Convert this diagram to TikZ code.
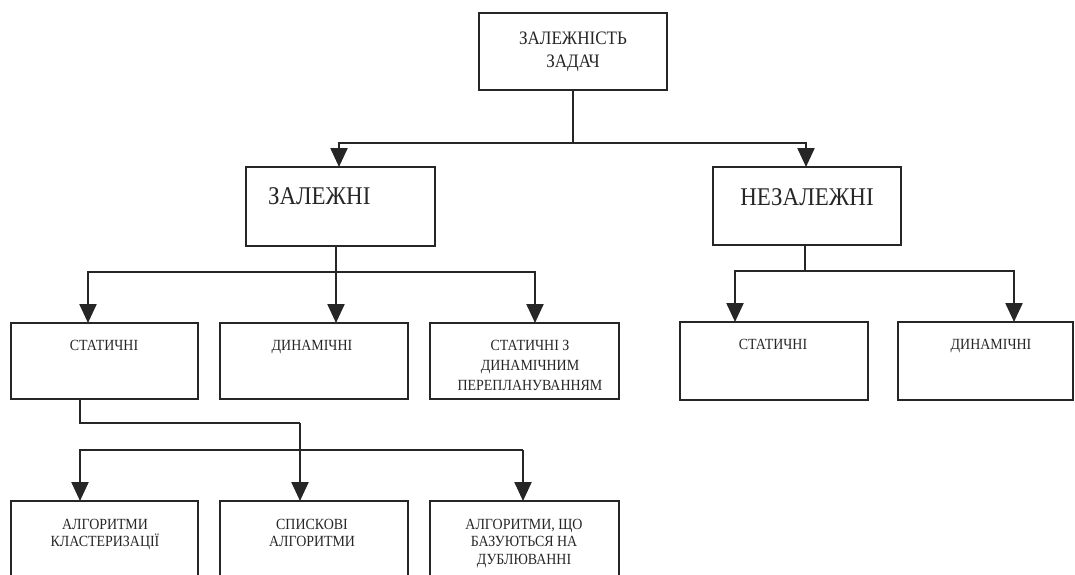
\documentclass[tikz,border=0pt]{standalone}
\usepackage{fontspec}
\setmainfont{Liberation Serif}[FakeStretch=0.9]
\usetikzlibrary{arrows.meta}
\begin{document}
\begin{tikzpicture}[x=1pt,y=-1pt,
  box/.style={draw=black!85, line width=1.7pt, inner sep=0pt, outer sep=0pt, fill=none},
  lbl/.style={inner sep=0pt, outer sep=0pt, align=center, text=black!85},
  conn/.style={draw=black!85, line width=1.3pt},
  arr/.style={draw=black!85, line width=2.3pt, line join=miter, -{Triangle[length=19pt,width=17pt]}},
  fbig/.style={font=\fontsize{25.5}{30}\selectfont},
  ftop/.style={font=\fontsize{19}{23}\selectfont},
  fsm/.style={font=\fontsize{15.5}{20}\selectfont},
  fsm4/.style={font=\fontsize{15.5}{17.5}\selectfont}]
\useasboundingbox (0,0) rectangle (1075,574);
\clip (0,0) rectangle (1075,574);
% boxes
\node[box, minimum width=188pt, minimum height=77pt] (top) at (573,51.5) {};
\node[box, minimum width=189pt, minimum height=79pt] (zal) at (340.5,206.5) {};
\node[box, minimum width=188pt, minimum height=78pt] (nez) at (807,206) {};
\node[box, minimum width=187pt, minimum height=76pt] (s1) at (104.5,361) {};
\node[box, minimum width=188pt, minimum height=76pt] (s2) at (314,361) {};
\node[box, minimum width=189pt, minimum height=76pt] (s3) at (524.5,361) {};
\node[box, minimum width=188pt, minimum height=78pt] (rs) at (774,361) {};
\node[box, minimum width=175pt, minimum height=78pt] (rd) at (985.5,361) {};
\node[box, minimum width=187pt, minimum height=99pt] (a1) at (104.5,550.5) {};
\node[box, minimum width=188pt, minimum height=99pt] (a2) at (314,550.5) {};
\node[box, minimum width=189pt, minimum height=99pt] (a3) at (524.5,550.5) {};
% texts
\node[lbl, ftop, anchor=north] (ttop) at (573,31.5) {ЗАЛЕЖНІСТЬ\\ЗАДАЧ};
\node[lbl, fbig, anchor=north west] (tzal) at (268,188) {ЗАЛЕЖНІ};
\node[lbl, fbig, anchor=north] (tnez) at (807,189) {НЕЗАЛЕЖНІ};
\node[lbl, fsm, anchor=north] (ts1) at (104,340) {СТАТИЧНІ};
\node[lbl, fsm, anchor=north] (ts2) at (312,340) {ДИНАМІЧНІ};
\node[lbl, fsm, anchor=north] (ts3) at (530,340) {СТАТИЧНІ З\\ДИНАМІЧНИМ\\ПЕРЕПЛАНУВАННЯМ};
\node[lbl, fsm, anchor=north] (trs) at (773,339) {СТАТИЧНІ};
\node[lbl, fsm, anchor=north] (trd) at (991,339) {ДИНАМІЧНІ};
\node[lbl, fsm4, anchor=north] (ta1) at (105,519) {АЛГОРИТМИ\\КЛАСТЕРИЗАЦІЇ};
\node[lbl, fsm4, anchor=north] (ta2) at (312,519) {СПИСКОВІ\\АЛГОРИТМИ};
\node[lbl, fsm4, anchor=north] (ta3) at (524,519) {АЛГОРИТМИ, ЩО\\БАЗУЮТЬСЯ НА\\ДУБЛЮВАННІ};
% level 1
\coordinate (j0) at (573,143);
\draw[conn] (top.south) -- (j0);
\draw[arr] (j0) -| (339,0 |- zal.north);
\draw[arr] (j0) -| (806,0 |- nez.north);
% level 2 left
\coordinate (j1) at (336,272);
\draw[conn] (j1 |- zal.south) -- (j1);
\draw[arr] (j1) -| (88,0 |- s1.north);
\draw[arr] (j1) -- (j1 |- s2.north);
\draw[arr] (j1) -| (535,0 |- s3.north);
% level 2 right
\coordinate (j2) at (805,271);
\draw[conn] (j2 |- nez.south) -- (j2);
\draw[arr] (j2) -| (735,0 |- rs.north);
\draw[arr] (j2) -| (1014,0 |- rd.north);
% level 3
\coordinate (k0) at (80,423);
\coordinate (k1) at (300,423);
\coordinate (k2) at (80,450);
\coordinate (k3) at (523,450);
\draw[conn] (k0 |- s1.south) -- (k0) -- (k1);
\draw[arr] (k1) -- (k1 |- a2.north);
\draw[arr] (k3) -- (k2) -- (k2 |- a1.north);
\draw[arr] (k3) -- (k3 |- a3.north);
\end{tikzpicture}
\end{document}
